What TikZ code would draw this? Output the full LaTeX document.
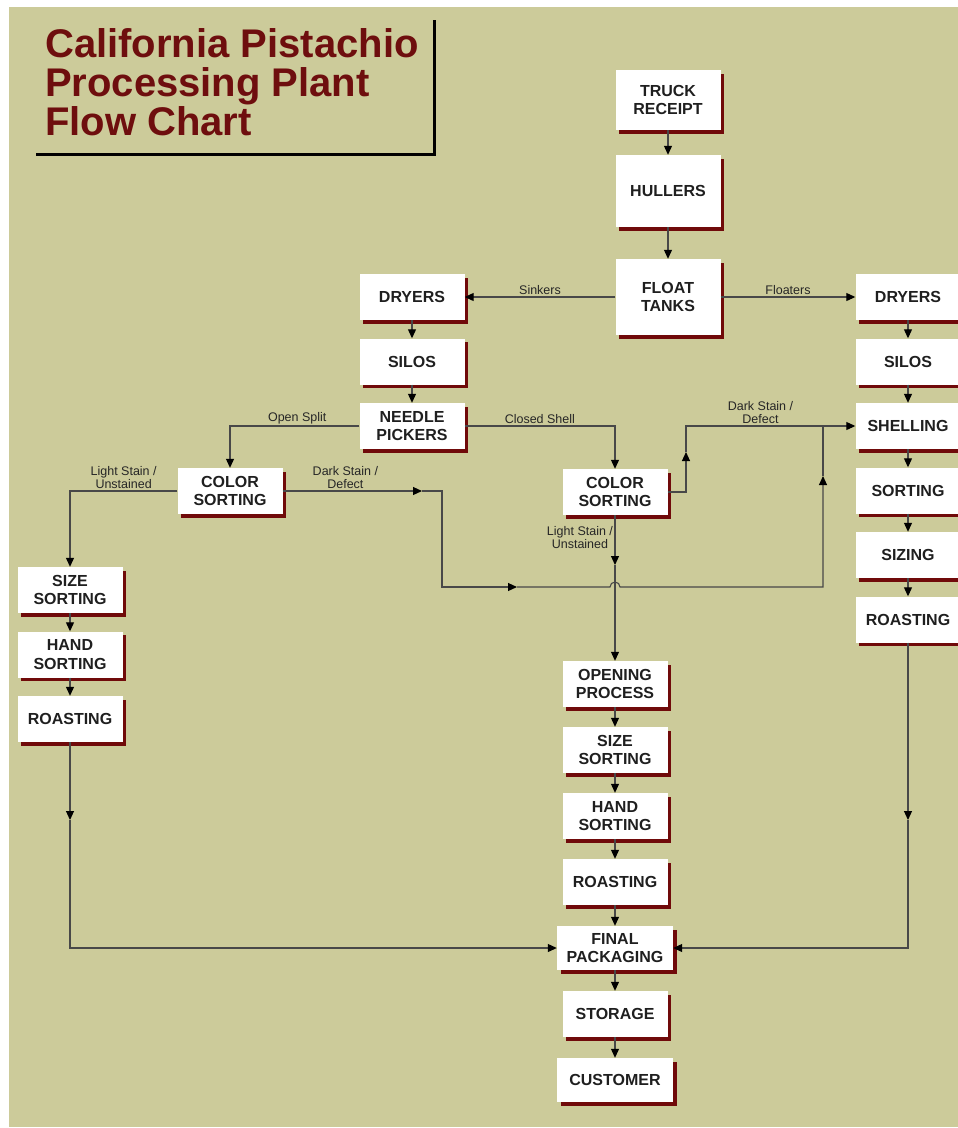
\documentclass[tikz,border=0pt]{standalone}
\usepackage{fontspec}
\setmainfont{Liberation Sans}
\usetikzlibrary{arrows.meta,positioning,shadows}

\definecolor{khaki}{RGB}{204,203,154}
\definecolor{titlered}{RGB}{110,14,14}
\definecolor{shadered}{RGB}{112,10,10}
\definecolor{wire}{RGB}{72,72,72}

\tikzset{
  box/.style={fill=white, minimum width=105pt, minimum height=46pt, inner sep=2pt, align=center,
    font=\fontsize{16}{18.5}\selectfont\bfseries, text=black!88,
    drop shadow={shadow xshift=3.5pt, shadow yshift=-3.5pt, fill=shadered, opacity=1}},
  lbl/.style={font=\fontsize{12.5}{13.5}\selectfont, align=center, inner sep=1.5pt, text=black!85},
  link/.style={draw=wire, line width=1.1pt}
}

\begin{document}
\begin{tikzpicture}[->, >={Triangle[length=9pt,width=8pt,color=black]}, x=1pt, y=-1pt,
    node distance=64.5pt, every edge/.style={link}]
  \useasboundingbox (0,0) rectangle (958,1128);
  \fill[white] (0,0) rectangle (958,1128);
  \fill[khaki] (9,7) rectangle (958,1127);

  % title
  \node[anchor=north west, inner sep=0pt, align=left, text=titlered,
        font=\fontsize{40}{39}\selectfont\bfseries] (title) at (45,28)
        {California Pistachio\\Processing Plant\\Flow Chart};
  \draw[-, line width=3pt] (434,20) -- (434,154) -- (36,154);

  % receiving
  \node[box, minimum height=60pt] (truck)   at (668,100) {TRUCK\\RECEIPT};
  \node[box, minimum height=72pt] (hullers) at (668,191) {HULLERS};
  \node[box, minimum height=76pt] (float)   at (668,297) {FLOAT\\TANKS};

  % sinkers
  \node[box] (dryL)   at (412,297)      {DRYERS};
  \node[box] (siloL)  [below of=dryL]   {SILOS};
  \node[box] (needle) [below of=siloL]  {NEEDLE\\PICKERS};
  \node[box] (colorL) at (230,491)      {COLOR\\SORTING};
  \node[box] (colorM) at (615,492)      {COLOR\\SORTING};

  \node[box] (sizeL)  at (70,590)       {SIZE\\SORTING};
  \node[box] (handL)  [below of=sizeL]  {HAND\\SORTING};
  \node[box] (roastL) [below of=handL]  {ROASTING};

  % floaters
  \node[box] (dryR)   at (908,297)      {DRYERS};
  \node[box] (siloR)  [below of=dryR]   {SILOS};
  \node[box] (shell)  [below of=siloR]  {SHELLING};
  \node[box] (sortR)  [below of=shell]  {SORTING};
  \node[box] (sizing) [below of=sortR]  {SIZING};
  \node[box] (roastR) [below of=sizing] {ROASTING};

  % closed shell line
  \begin{scope}[node distance=66pt]
    \node[box] (open)     at (615,684)     {OPENING\\PROCESS};
    \node[box] (sizeM)    [below of=open]  {SIZE\\SORTING};
    \node[box] (handM)    [below of=sizeM] {HAND\\SORTING};
    \node[box] (roastM)   [below of=handM] {ROASTING};
    \node[box, minimum width=116pt, minimum height=44pt] (final) [below of=roastM] {FINAL\\PACKAGING};
    \node[box] (storage)  [below of=final] {STORAGE};
    \node[box, minimum width=116pt, minimum height=44pt] (customer) [below of=storage] {CUSTOMER};
  \end{scope}

  \coordinate (dkL1) at (422,491);
  \coordinate (dkL2) at (517,587);
  \coordinate (dkL3) at (823,476);
  \coordinate (dkM1) at (686,452);
  \coordinate (lsM1) at (615,565);
  \coordinate (rlA)  at (70,820);
  \coordinate (rrA)  at (908,820);

  \path (truck)   edge                                  (hullers)
        (hullers) edge                                  (float)
        (float)   edge node[lbl,above] {Sinkers}        (dryL)
                  edge node[lbl,above] {Floaters}       (dryR)
        (dryL)    edge                                  (siloL)
        (siloL)   edge                                  (needle)
        (sizeL)   edge                                  (handL)
        (handL)   edge                                  (roastL)
        (dryR)    edge                                  (siloR)
        (siloR)   edge                                  (shell)
        (shell)   edge                                  (sortR)
        (sortR)   edge                                  (sizing)
        (sizing)  edge                                  (roastR)
        (open)    edge                                  (sizeM)
        (sizeM)   edge                                  (handM)
        (handM)   edge                                  (roastM)
        (roastM)  edge                                  (final)
        (final)   edge                                  (storage)
        (storage) edge                                  (customer)
        ;

  \draw[link] (needle.west) -| node[lbl,above,pos=0.24] {Open Split} (colorL);
  \draw[link] (needle.east) -| node[lbl,above,pos=0.25] {Closed Shell} (colorM);
  \draw[link] (colorL.west) -| node[lbl,above,pos=0.25] {Light Stain /\\Unstained} (sizeL);

  \draw[link] (colorL.east) -- node[lbl,above,pos=0.45] {Dark Stain /\\Defect} (dkL1);
  \draw[link] (dkL1) -- (442,491) |- (dkL2);
  \draw[link] (dkL2) -- (610,587) arc[start angle=180, end angle=0, radius=5pt] -- (823,587) -- (dkL3);
  \draw[link,-] (dkL3) -- (823,425);

  \draw[link] (colorM.east) -| (dkM1);
  \draw[link] (dkM1) |- node[lbl,above,pos=0.72] {Dark Stain /\\Defect} (shell.west);

  \draw[link] (colorM.south) -- node[lbl,left,pos=0.45,align=center] {Light Stain /\\Unstained} (lsM1);
  \draw[link] (lsM1) -- (open);

  \draw[link] (roastL) -- (rlA);
  \draw[link] (rlA) |- (final.west);
  \draw[link] (roastR) -- (rrA);
  \draw[link] (rrA) |- (final.east);
\end{tikzpicture}
\end{document}
